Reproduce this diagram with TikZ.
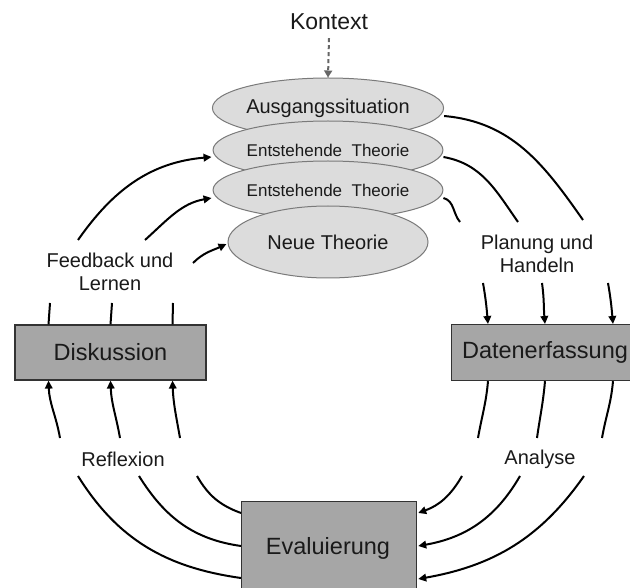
\documentclass[tikz,border=0pt]{standalone}
\usepackage{fontspec}
\setmainfont{Liberation Sans}
\usetikzlibrary{arrows.meta,shapes.geometric,calc}
\definecolor{ellfill}{HTML}{DCDCDC}
\definecolor{ellline}{HTML}{7A7A7A}
\definecolor{boxfill}{HTML}{A6A6A6}
\definecolor{boxline}{HTML}{333333}
\definecolor{txt}{HTML}{1A1A1A}
\definecolor{ctx}{HTML}{666666}
\tikzset{
  theory/.style={ellipse, draw=ellline, line width=1pt, fill=ellfill, minimum width=200pt, inner sep=0pt, text=txt},
  stage/.style={rectangle, draw=boxline, line width=1.2pt, fill=boxfill, inner sep=0pt, text=txt},
  lbl/.style={text=txt, font=\fontsize{20}{23}\selectfont, align=center, inner sep=0pt},
  flow/.style={line width=2pt, black},
  flowarr/.style={flow, -{Triangle[length=8pt,width=7.5pt]}},
}
\begin{document}
\begin{tikzpicture}[x=1pt,y=-1pt]
\useasboundingbox (0,0) rectangle (630,588);
\fill[white] (0,0) rectangle (630,588);

% Kontext
\node[text=txt, font=\fontsize{23}{27}\selectfont, inner sep=0pt] (ktx) at (329,22) {Kontext};

% theory ellipses
\node[theory, minimum height=60pt, font=\fontsize{20}{24}\selectfont] (aus) at (328,108) {\raisebox{4pt}{Ausgangssituation}};
\node[theory, minimum height=58pt, font=\fontsize{17}{20}\selectfont] (ent1) at (328,150) {Entstehende\ \ Theorie};
\node[theory, minimum height=58pt, font=\fontsize{17}{20}\selectfont] (ent2) at (328,190) {Entstehende\ \ Theorie};
\node[theory, minimum height=72pt, font=\fontsize{20}{24}\selectfont] (neu) at (328,242) {Neue Theorie};

\draw[ctx, line width=2pt, dash pattern=on 4pt off 3pt, -{Triangle[length=7pt,width=8pt]}] ([yshift=-8pt]ktx.south) -- (aus.north);

% boxes
\node[stage, minimum width=191pt, minimum height=55pt, font=\fontsize{23.5}{27}\selectfont] (dis) at (110.5,352.5) {Diskussion};
\node[stage, minimum width=190pt, minimum height=56pt, anchor=north west] (dat) at (451,324) {};
\node[text=txt, font=\fontsize{23.5}{27}\selectfont, inner sep=0pt] (datt) at (545,352) {Datenerfassung};
\node[stage, minimum width=175pt, minimum height=100pt, anchor=north west] (eva) at (241,501) {};
\node[text=txt, font=\fontsize{23.5}{27}\selectfont, inner sep=0pt] (evat) at (328,548) {Evaluierung};

% labels
\node[lbl] (fb) at (110,272) {Feedback und\\Lernen};
\node[lbl] (ph) at (537,254) {Planung und\\Handeln};
\node[lbl] (rf) at (123,459) {Reflexion};
\node[lbl] (an) at (540,459) {Analyse};

% free ends of interrupted connectors
\coordinate (fa1) at (78,240);
\coordinate (fa2) at (145,240);
\coordinate (fa3) at (193,263);
\coordinate (fb1) at (50,303);
\coordinate (fb2) at (112,303);
\coordinate (fb3) at (173,303);
\coordinate (ra1) at (60,438);
\coordinate (ra2) at (120,438);
\coordinate (ra3) at (180,438);
\coordinate (rb1) at (78,476);
\coordinate (rb2) at (139,476);
\coordinate (rb3) at (197,476);
\coordinate (pa1) at (583,220);
\coordinate (pa2) at (518,222);
\coordinate (pa3) at (460,222);
\coordinate (pb1) at (483,283);
\coordinate (pb2) at (542,283);
\coordinate (pb3) at (608,283);
\coordinate (aa1) at (478,438);
\coordinate (aa2) at (537,438);
\coordinate (aa3) at (602,438);
\coordinate (ab1) at (462,476);
\coordinate (ab2) at (520,476);
\coordinate (ab3) at (584,476);

% Diskussion -> Feedback und Lernen -> theories
\draw[flow] ([xshift=-62pt]dis.north) -- (fb1);
\draw[flow] ([xshift=0pt]dis.north) -- (fb2);
\draw[flow] ([xshift=62pt]dis.north) -- (fb3);
\draw[flowarr] (fa1) to[out=55,in=185] ([xshift=-1pt,yshift=-7pt]ent1.west);
\draw[flowarr] (fa2) to[out=42,in=190] ([xshift=-1pt,yshift=-8pt]ent2.west);
\draw[flowarr] (fa3) to[out=45,in=205] ([xshift=-1pt,yshift=-2pt]neu.west);

% Evaluierung -> Reflexion -> Diskussion
\draw[flow] (eva.north west |- 0,578) to[out=172,in=-58] (rb1);
\draw[flow] (eva.north west |- 0,546) to[out=172,in=-58] (rb2);
\draw[flow] (eva.north west |- 0,513) to[out=160,in=-60] (rb3);
\draw[flowarr] (ra1) to[out=100,in=-88] ([xshift=-62pt]dis.south);
\draw[flowarr] (ra2) to[out=100,in=-88] ([xshift=0pt]dis.south);
\draw[flowarr] (ra3) to[out=100,in=-88] ([xshift=62pt]dis.south);

% theories -> Planung und Handeln -> Datenerfassung
\draw[flow] ([yshift=-8pt]aus.east) to[out=-5,in=125] (pa1);
\draw[flow] ([yshift=-7pt]ent1.east) to[out=-10,in=125] (pa2);
\draw[flow] ([yshift=-8pt]ent2.east) to[out=-15,in=130] (pa3);
\draw[flowarr] (pb1) to[out=-80,in=95] (dat.north west -| 488,0);
\draw[flowarr] (pb2) to[out=-82,in=95] (dat.north west -| 545,0);
\draw[flowarr] (pb3) to[out=-80,in=95] (dat.north west -| 613,0);

% Datenerfassung -> Analyse -> Evaluierung
\draw[flow] (dat.south west -| 488,0) to[out=-95,in=80] (aa1);
\draw[flow] (dat.south west -| 545,0) to[out=-95,in=82] (aa2);
\draw[flow] (dat.south west -| 613,0) to[out=-95,in=80] (aa3);
\draw[flowarr] (ab1) to[out=-120,in=20] ([xshift=1pt]eva.north east |- 0,513);
\draw[flowarr] (ab2) to[out=-120,in=10] ([xshift=1pt]eva.north east |- 0,546);
\draw[flowarr] (ab3) to[out=-125,in=10] ([xshift=1pt]eva.north east |- 0,579);
\end{tikzpicture}
\end{document}
